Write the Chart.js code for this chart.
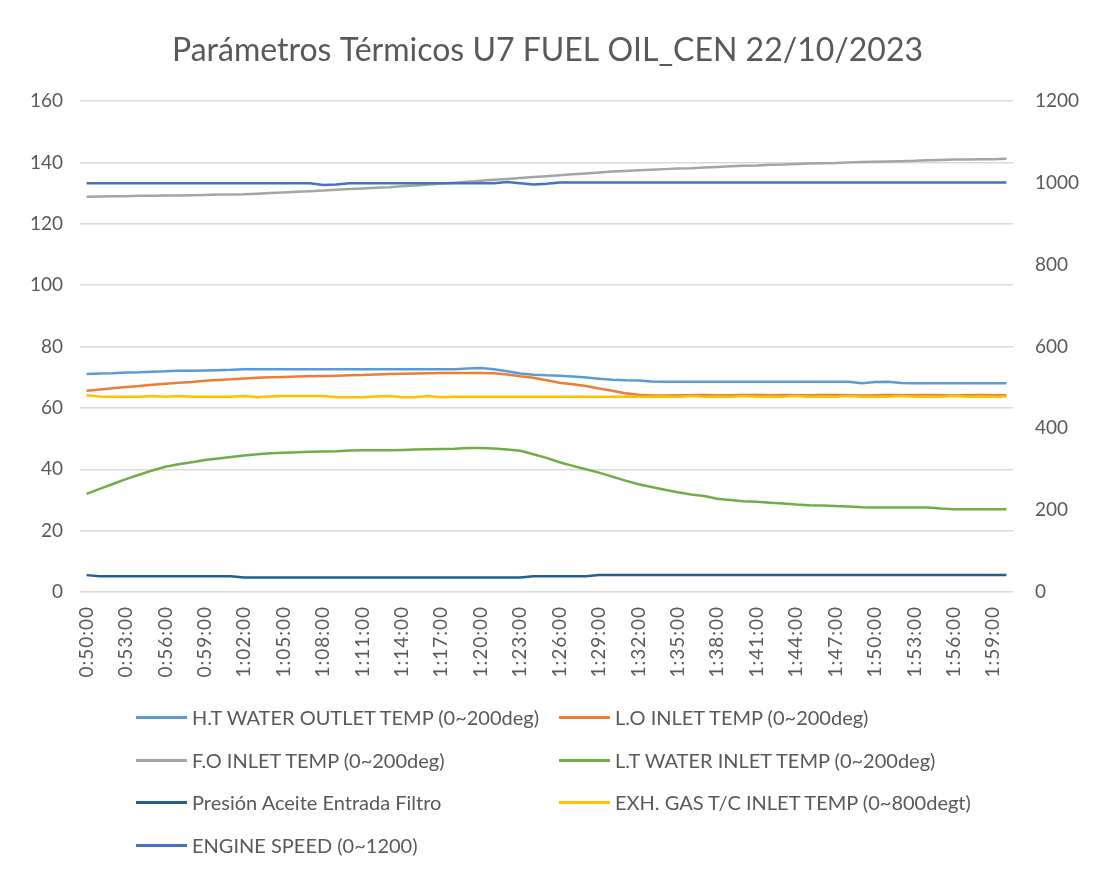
<!DOCTYPE html>
<html><head><meta charset="utf-8">
<script src="https://cdn.jsdelivr.net/npm/chart.js@4/dist/chart.umd.min.js"></script>
<style>
html,body{margin:0;padding:0;background:#fff;}
#wrap{position:relative;width:1095px;height:873px;overflow:hidden;}
#legend{position:absolute;left:0;top:0;width:1095px;height:873px;pointer-events:none;font-family:Lato,sans-serif;font-size:20px;color:#595959;}
.item{position:absolute;display:flex;align-items:center;white-space:nowrap;height:30px;}
.swatch{width:51px;height:3px;}
.txt{margin-left:5px;}
</style></head><body>
<div id="wrap"><canvas id="c" width="1095" height="873"></canvas><div id="legend"></div></div>
<script>
const title = 'Parámetros Térmicos U7 FUEL OIL_CEN 22/10/2023';
const times = ['0:50:00','0:51:00','0:52:00','0:53:00','0:54:00','0:55:00','0:56:00','0:57:00','0:58:00','0:59:00',
 '1:00:00','1:01:00','1:02:00','1:03:00','1:04:00','1:05:00','1:06:00','1:07:00','1:08:00','1:09:00',
 '1:10:00','1:11:00','1:12:00','1:13:00','1:14:00','1:15:00','1:16:00','1:17:00','1:18:00','1:19:00',
 '1:20:00','1:21:00','1:22:00','1:23:00','1:24:00','1:25:00','1:26:00','1:27:00','1:28:00','1:29:00',
 '1:30:00','1:31:00','1:32:00','1:33:00','1:34:00','1:35:00','1:36:00','1:37:00','1:38:00','1:39:00',
 '1:40:00','1:41:00','1:42:00','1:43:00','1:44:00','1:45:00','1:46:00','1:47:00','1:48:00','1:49:00',
 '1:50:00','1:51:00','1:52:00','1:53:00','1:54:00','1:55:00','1:56:00','1:57:00','1:58:00','1:59:00','2:00:00'];

const seriesNames = ['H.T WATER OUTLET TEMP (0~200deg)','L.O INLET TEMP (0~200deg)','F.O INLET TEMP (0~200deg)',
 'L.T WATER INLET TEMP (0~200deg)','Presión Aceite Entrada Filtro','EXH. GAS T/C INLET TEMP (0~800degt)','ENGINE SPEED (0~1200)'];

const htWater = [71.0,71.2,71.3,71.5,71.6,71.8,71.9,72.1,72.1,72.2,72.3,72.4,72.6,
 72.6,72.6,72.6,72.6,72.6,72.6,72.6,72.6,72.6,72.6,72.6,72.6,72.6,72.6,72.6,72.6,
 72.8,73.0,72.6,71.9,71.2,70.8,70.6,70.5,70.2,69.9,69.5,69.2,69.0,68.9,68.6,
 68.5,68.5,68.5,68.5,68.5,68.5,68.5,68.5,68.5,68.5,68.5,68.5,68.5,68.5,68.5,
 68.0,68.4,68.5,68.1,68.0,68.0,68.0,68.0,68.0,68.0,68.0,68.0];
const loInlet = [65.6,66.0,66.4,66.8,67.1,67.5,67.9,68.2,68.4,68.8,69.1,69.3,69.6,69.8,70.0,70.1,70.2,70.3,70.4,70.5,
 70.6,70.7,70.9,71.0,71.1,71.2,71.3,71.4,71.4,71.4,71.4,71.3,70.9,70.3,69.8,69.0,68.2,67.7,67.1,66.3,
 65.6,64.8,64.3,64.0,64.0,64.1,64.1,64.2,64.1,64.1,64.2,64.2,64.1,64.2,64.1,64.1,64.2,64.2,64.1,64.0,
 64.1,64.2,64.1,64.1,64.2,64.1,64.0,64.1,64.2,64.1,64.1];
const foInlet = [128.8,128.9,129.0,129.0,129.1,129.1,129.2,129.2,129.3,129.4,129.5,129.5,129.6,129.8,130.0,130.2,130.4,130.6,130.8,131.1,
 131.3,131.5,131.7,131.9,132.2,132.5,132.8,133.1,133.4,133.7,134.0,134.3,134.6,134.9,135.2,135.5,135.8,136.1,136.4,136.7,
 137.0,137.2,137.4,137.6,137.8,138.0,138.1,138.3,138.5,138.7,138.9,139.0,139.2,139.3,139.5,139.6,139.7,139.8,140.0,140.1,
 140.2,140.3,140.4,140.5,140.7,140.8,140.9,140.9,141.0,141.0,141.2];
const ltWater = [32.0,33.6,35.2,36.8,38.2,39.6,40.8,41.6,42.3,43.0,43.5,44.0,44.5,44.9,45.2,45.4,45.5,45.7,45.8,45.9,
 46.1,46.2,46.2,46.2,46.3,46.4,46.5,46.6,46.7,46.9,46.9,46.8,46.4,46.0,44.9,43.7,42.3,41.1,40.0,38.9,
 37.6,36.3,35.1,34.2,33.3,32.5,31.8,31.3,30.4,30.0,29.6,29.4,29.1,28.8,28.5,28.3,28.2,28.0,27.9,27.6,
 27.5,27.5,27.5,27.5,27.5,27.2,27.0,27.0,27.0,27.0,27.0];
const oilPressure = [5.5,5.1,5.1,5.1,5.1,5.1,5.1,5.1,5.1,5.1,5.1,5.1,4.7,4.7,4.7,4.7,4.7,4.7,4.7,4.7,
 4.7,4.7,4.7,4.7,4.7,4.7,4.7,4.7,4.7,4.7,4.7,4.7,4.7,4.7,5.1,5.1,5.1,5.1,5.1,5.5,
 5.5,5.5,5.5,5.5,5.5,5.5,5.5,5.5,5.5,5.5,5.5,5.5,5.5,5.5,5.5,5.5,5.5,5.5,5.5,5.5,
 5.5,5.5,5.5,5.5,5.5,5.5,5.5,5.5,5.5,5.5,5.5];
const exhGas = [481,478,477,477,477,479,477,479,477,477,477,477,479,476,478,479,479,479,479,476,
 476,476,478,479,476,476,479,476,477,477,477,477,477,477,477,477,477,477,477,477,
 477,477,477,477,478,477,479,477,478,477,479,477,478,477,479,477,478,477,479,477,
 478,477,479,477,478,477,479,477,478,477,478];
const engineSpeed = [999,999,999,999,999,999,999,999,999,999,999,999,999,999,999,999,999,999,995,996,
 999,999,999,999,999,999,999,999,999,999,999,999,1002,999,996,998,1001,1001,1001,1001,
 1001,1001,1001,1001,1001,1001,1001,1001,1001,1001,1001,1001,1001,1001,1001,1001,1001,1001,1001,1001,
 1001,1001,1001,1001,1001,1001,1001,1001,1001,1001,1001];

const leftTicks = [0,20,40,60,80,100,120,140,160];
const rightTicks = [0,200,400,600,800,1000,1200];
const colors = ['#5B9BD5','#ED7D31','#A5A5A5','#70AD47','#255E91','#FFC000','#4472C4'];
const seriesData = [htWater, loInlet, foInlet, ltWater, oilPressure, exhGas, engineSpeed];
const seriesAxis = ['y','y','y','y','y','y1','y1'];

const FONT = 'Lato, sans-serif';
const TXT = '#595959';

const datasets = seriesData.map((d,i)=>({
  label: seriesNames[i], data: d, borderColor: colors[i], backgroundColor: colors[i],
  borderWidth: 2.5, pointRadius: 0, tension: 0, fill: false, yAxisID: seriesAxis[i],
  order: seriesData.length - i
}));

new Chart(document.getElementById('c'), {
  type: 'line',
  data: { labels: times, datasets },
  options: {
    responsive: false, animation: false,
    layout: { padding: 0 },
    plugins: {
      legend: { display: false },
      tooltip: { enabled: false },
      title: { display: true, text: title, color: TXT,
        font: { family: FONT, size: 32, weight: 'normal', lineHeight: 1.2 },
        padding: { top: 31, bottom: 31.6 } }
    },
    scales: {
      x: {
        type: 'category', offset: true,
        grid: { display: false, drawTicks: false },
        border: { display: false },
        ticks: { autoSkip: false, maxRotation: 90, minRotation: 90, padding: 14, color: TXT,
          font: { family: FONT, size: 19 },
          callback: function(v, idx){ return idx % 3 === 0 ? times[idx] : null; } },
        afterFit: s => { s.height = 281; },
        afterUpdate: s => {
          if (!s._lsWrapped) {
            const orig = s.drawLabels;
            s.drawLabels = function(ca){ this.ctx.save(); this.ctx.letterSpacing = '1px'; orig.call(this, ca); this.ctx.restore(); };
            s._lsWrapped = true;
          }
        }
      },
      y: {
        position: 'left', min: 0, max: 160,
        afterBuildTicks: s => { s.ticks = leftTicks.map(v=>({value:v})); },
        grid: { color: '#D9D9D9', lineWidth: 1.5, drawTicks: false },
        border: { display: false },
        ticks: { padding: 17, color: TXT, font: { family: FONT, size: 19 }, callback: v => String(v) },
        afterFit: s => { s.width = 80; }
      },
      y1: {
        position: 'right', min: 0, max: 1200,
        afterBuildTicks: s => { s.ticks = rightTicks.map(v=>({value:v})); },
        grid: { display: false, drawTicks: false },
        border: { display: false },
        ticks: { padding: 22, color: TXT, font: { family: FONT, size: 19 }, callback: v => String(v) },
        afterFit: s => { s.width = 82; }
      }
    }
  }
});

// legend (two columns, as in the original)
const legendPos = [[136,717],[559,717],[136,760],[559,760],[136,802],[559,802],[136,845]];
const leg = document.getElementById('legend');
seriesNames.forEach((n,i)=>{
  const it = document.createElement('div');
  it.className = 'item';
  it.style.left = legendPos[i][0] + 'px';
  it.style.top = (legendPos[i][1] - 15) + 'px';
  const sw = document.createElement('span'); sw.className = 'swatch'; sw.style.background = colors[i];
  const tx = document.createElement('span'); tx.className = 'txt'; tx.textContent = n;
  it.appendChild(sw); it.appendChild(tx); leg.appendChild(it);
});
</script>
</body></html>
